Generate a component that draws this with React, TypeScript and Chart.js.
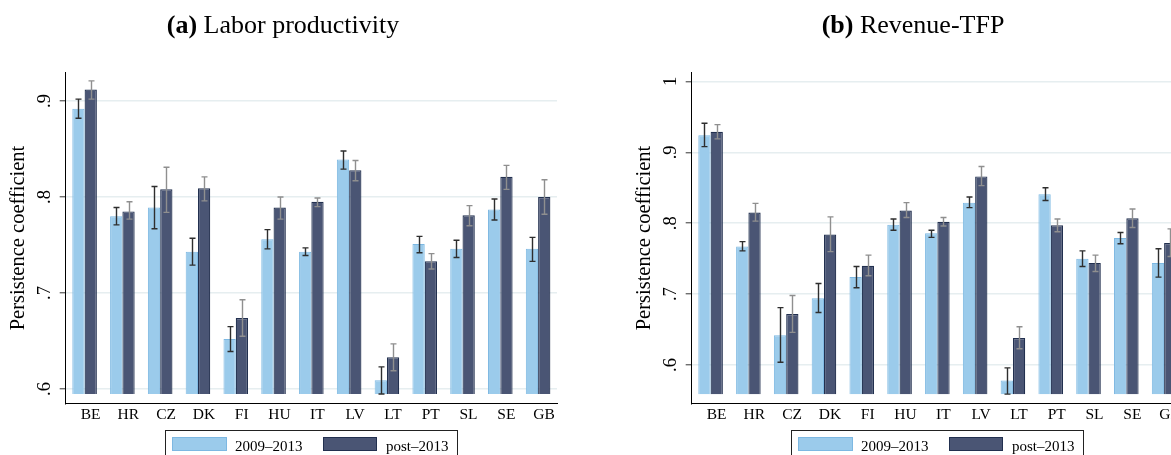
import React, { useEffect, useRef } from "react";
import { Chart, registerables } from "chart.js";

Chart.register(...registerables);

// ---------- data ----------
const countries = ["BE", "HR", "CZ", "DK", "FI", "HU", "IT", "LV", "LT", "PT", "SL", "SE", "GB"];
const seriesNames = ["2009\u20132013", "post\u20132013"];

// (a) Labor productivity
const lpEarly = [0.892, 0.780, 0.789, 0.743, 0.652, 0.756, 0.743, 0.839, 0.609, 0.751, 0.746, 0.787, 0.746];
const lpEarlyLo = [0.882, 0.771, 0.767, 0.729, 0.639, 0.746, 0.739, 0.829, 0.5948, 0.742, 0.737, 0.776, 0.733];
const lpEarlyHi = [0.902, 0.789, 0.811, 0.757, 0.665, 0.766, 0.747, 0.848, 0.623, 0.759, 0.755, 0.798, 0.758];
const lpPost = [0.912, 0.785, 0.808, 0.809, 0.674, 0.789, 0.795, 0.828, 0.633, 0.733, 0.781, 0.821, 0.800];
const lpPostLo = [0.902, 0.777, 0.784, 0.796, 0.655, 0.777, 0.790, 0.817, 0.619, 0.725, 0.770, 0.808, 0.782];
const lpPostHi = [0.921, 0.795, 0.831, 0.821, 0.693, 0.800, 0.799, 0.838, 0.647, 0.741, 0.791, 0.833, 0.818];

// (b) Revenue-TFP
const tfpEarly = [0.924, 0.767, 0.642, 0.694, 0.724, 0.798, 0.786, 0.829, 0.578, 0.841, 0.750, 0.779, 0.744];
const tfpEarlyLo = [0.908, 0.761, 0.604, 0.674, 0.709, 0.790, 0.780, 0.822, 0.5589, 0.832, 0.739, 0.771, 0.724];
const tfpEarlyHi = [0.941, 0.774, 0.681, 0.715, 0.739, 0.806, 0.790, 0.837, 0.596, 0.850, 0.761, 0.787, 0.764];
const tfpPost = [0.929, 0.815, 0.672, 0.784, 0.740, 0.818, 0.802, 0.866, 0.638, 0.797, 0.744, 0.807, 0.772];
const tfpPostLo = [0.919, 0.803, 0.646, 0.760, 0.726, 0.808, 0.796, 0.853, 0.623, 0.788, 0.732, 0.794, 0.753];
const tfpPostHi = [0.939, 0.828, 0.698, 0.809, 0.755, 0.829, 0.808, 0.880, 0.654, 0.806, 0.755, 0.820, 0.792];

// tick values / labels
const lpTicks = [0.6, 0.7, 0.8, 0.9];
const lpTickLabels = [".6", ".7", ".8", ".9"];
const tfpTicks = [0.6, 0.7, 0.8, 0.9, 1.0];
const tfpTickLabels = [".6", ".7", ".8", ".9", "1"];

// ---------- style ----------
const SERIF = "'Liberation Serif', 'Times New Roman', serif";
const LIGHT = "#9bcbeb";
const LIGHT_EDGE = "#7db8e2";
const DARK = "#4a5574";
const DARK_EDGE = "#22304f";
const ERR_LIGHT = "#2e2e2e";
const ERR_DARK = "#8f8f8f";

const W = 600;
const H = 480;

type PanelCfg = {
  label: string;
  title: string;
  titleX: number;
  early: number[];
  earlyLo: number[];
  earlyHi: number[];
  post: number[];
  postLo: number[];
  postHi: number[];
  ticks: number[];
  tickLabels: string[];
  yMin: number;
  yMax: number;
  base: number;
};

function Panel({ left, cfg }: { left: number; cfg: PanelCfg }) {
  const ref = useRef<HTMLCanvasElement>(null);

  useEffect(() => {
    const errorBars = {
      id: "errorBars",
      afterDatasetsDraw(chart: any) {
        const ctx = chart.ctx;
        const ys = chart.scales.y;
        const sets = [
          { lo: cfg.earlyLo, hi: cfg.earlyHi, color: ERR_LIGHT },
          { lo: cfg.postLo, hi: cfg.postHi, color: ERR_DARK },
        ];
        sets.forEach((s, di) => {
          const meta = chart.getDatasetMeta(di);
          ctx.save();
          ctx.strokeStyle = s.color;
          ctx.lineWidth = 1.4;
          meta.data.forEach((el: any, i: number) => {
            const x = Math.round(el.x) + 0.5;
            const yl = ys.getPixelForValue(s.lo[i]);
            const yh = ys.getPixelForValue(s.hi[i]);
            ctx.beginPath();
            ctx.moveTo(x, yl);
            ctx.lineTo(x, yh);
            ctx.moveTo(x - 3, yl);
            ctx.lineTo(x + 3, yl);
            ctx.moveTo(x - 3, yh);
            ctx.lineTo(x + 3, yh);
            ctx.stroke();
          });
          ctx.restore();
        });
      },
    };

    const decorations = {
      id: "decorations",
      afterDraw(chart: any) {
        const ctx = chart.ctx;
        const area = chart.chartArea;
        const ys = chart.scales.y;
        ctx.save();
        ctx.fillStyle = "#000";

        // title
        const boldFont = `bold 26px ${SERIF}`;
        const normFont = `26px ${SERIF}`;
        ctx.font = boldFont;
        const w1 = ctx.measureText(cfg.label).width;
        ctx.font = normFont;
        const w2 = ctx.measureText(" " + cfg.title).width;
        const x0 = cfg.titleX - (w1 + w2) / 2;
        ctx.textBaseline = "alphabetic";
        ctx.textAlign = "left";
        ctx.font = boldFont;
        ctx.fillText(cfg.label, x0, 33);
        ctx.font = normFont;
        ctx.fillText(" " + cfg.title, x0 + w1, 33);

        // y axis title
        ctx.save();
        ctx.translate(19, (area.top + area.bottom) / 2);
        ctx.rotate(-Math.PI / 2);
        ctx.font = `20.5px ${SERIF}`;
        ctx.textAlign = "center";
        ctx.textBaseline = "middle";
        ctx.fillText("Persistence coefficient", 0, 0);
        ctx.restore();

        // y tick labels (vertical)
        ctx.font = `18.5px ${SERIF}`;
        cfg.ticks.forEach((v, i) => {
          const y = ys.getPixelForValue(v);
          ctx.save();
          ctx.translate(45, y);
          ctx.rotate(-Math.PI / 2);
          ctx.textAlign = "center";
          ctx.textBaseline = "middle";
          ctx.fillText(cfg.tickLabels[i], 0, 0);
          ctx.restore();
        });

        // legend
        ctx.lineWidth = 1;
        ctx.strokeStyle = "#222";
        ctx.strokeRect(165.5, 430.5, 292, 30);
        ctx.fillStyle = LIGHT;
        ctx.fillRect(172, 437, 55, 14);
        ctx.strokeStyle = LIGHT_EDGE;
        ctx.strokeRect(172.5, 437.5, 54, 13);
        ctx.fillStyle = DARK;
        ctx.fillRect(323, 437, 54, 14);
        ctx.strokeStyle = DARK_EDGE;
        ctx.strokeRect(323.5, 437.5, 53, 13);
        ctx.fillStyle = "#000";
        ctx.font = `15px ${SERIF}`;
        ctx.textAlign = "left";
        ctx.textBaseline = "alphabetic";
        ctx.fillText(seriesNames[0], 235, 450.5);
        ctx.fillText(seriesNames[1], 386, 450.5);
        ctx.restore();
      },
    };

    const chart = new Chart(ref.current!, {
      type: "bar",
      data: {
        labels: countries,
        datasets: [
          {
            label: seriesNames[0],
            data: cfg.early,
            backgroundColor: LIGHT,
            borderColor: LIGHT_EDGE,
            borderWidth: 1,
            base: cfg.base,
            categoryPercentage: 0.65,
            barPercentage: 1.0,
          },
          {
            label: seriesNames[1],
            data: cfg.post,
            backgroundColor: DARK,
            borderColor: DARK_EDGE,
            borderWidth: 1.2,
            base: cfg.base,
            categoryPercentage: 0.65,
            barPercentage: 1.0,
          },
        ],
      } as any,
      options: {
        animation: false,
        responsive: false,
        maintainAspectRatio: false,
        devicePixelRatio: 1,
        layout: {
          padding: { left: 0, top: 72.7, right: W - 557, bottom: H - 403.3 - 40 },
        },
        plugins: {
          legend: { display: false },
          title: { display: false },
          tooltip: { enabled: false },
        },
        scales: {
          x: {
            type: "category",
            offset: true,
            grid: { display: false, drawTicks: false },
            border: { display: true, color: "#000", width: 1 },
            ticks: {
              color: "#000",
              font: { family: SERIF, size: 15.5 },
              padding: 2,
              labelOffset: 6,
              maxRotation: 0,
              minRotation: 0,
              autoSkip: false,
            },
            afterFit: (s: any) => {
              s.height = 40;
            },
          },
          y: {
            type: "linear",
            min: cfg.yMin,
            max: cfg.yMax,
            grid: {
              color: "#e6eef0",
              lineWidth: 1.5,
              drawTicks: true,
              tickLength: 6,
              tickColor: "#555",
              tickWidth: 1.2,
            },
            border: { display: true, color: "#000", width: 1 },
            ticks: { display: false },
            afterBuildTicks: (s: any) => {
              s.ticks = cfg.ticks.map((v) => ({ value: v }));
            },
            afterFit: (s: any) => {
              s.width = 65.7;
            },
          },
        },
      } as any,
      plugins: [errorBars, decorations],
    });
    return () => chart.destroy();
  }, []);

  return (
    <canvas
      ref={ref}
      width={W}
      height={H}
      style={{ position: "absolute", left, top: 0, width: W, height: H }}
    />
  );
}

const panelA: PanelCfg = {
  label: "(a)",
  title: "Labor productivity",
  titleX: 283,
  early: lpEarly,
  earlyLo: lpEarlyLo,
  earlyHi: lpEarlyHi,
  post: lpPost,
  postLo: lpPostLo,
  postHi: lpPostHi,
  ticks: lpTicks,
  tickLabels: lpTickLabels,
  yMin: 0.5851,
  yMax: 0.9295,
  base: 0.5948,
};

const panelB: PanelCfg = {
  label: "(b)",
  title: "Revenue-TFP",
  titleX: 287,
  early: tfpEarly,
  earlyLo: tfpEarlyLo,
  earlyHi: tfpEarlyHi,
  post: tfpPost,
  postLo: tfpPostLo,
  postHi: tfpPostHi,
  ticks: tfpTicks,
  tickLabels: tfpTickLabels,
  yMin: 0.546,
  yMax: 1.0123,
  base: 0.5589,
};

export default function App() {
  return (
    <div
      style={{
        position: "fixed",
        left: 0,
        top: 0,
        width: 1171,
        height: 455,
        overflow: "hidden",
        background: "#fff",
      }}
    >
      <Panel left={0} cfg={panelA} />
      <Panel left={626} cfg={panelB} />
    </div>
  );
}
